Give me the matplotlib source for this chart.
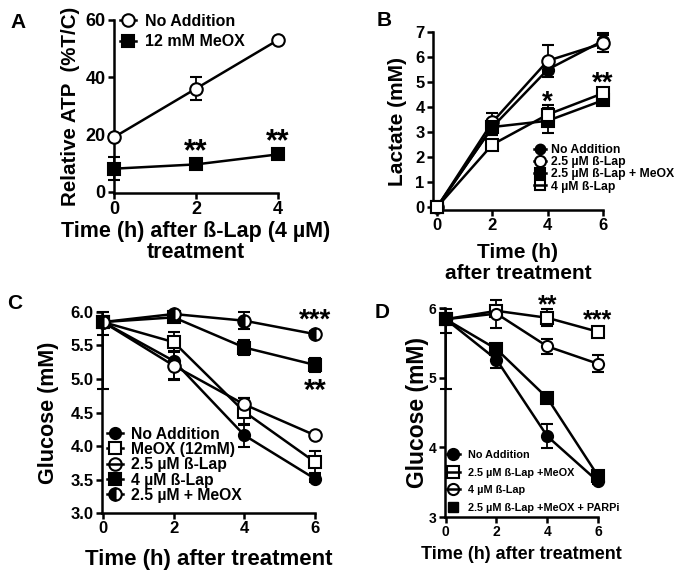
import matplotlib
matplotlib.use("Agg")
import matplotlib.pyplot as plt
from matplotlib.lines import Line2D
import numpy as np

plt.rcParams['font.family'] = ['Liberation Sans', 'DejaVu Sans']
plt.rcParams['font.weight'] = 'bold'

# ---- panel A: relative ATP ----
a_time = [0, 2, 4]
a_none = [19, 36, 53]
a_none_err = [0, 4, 0]
a_meox = [8, 9.5, 13]
a_meox_err = [4, 0, 0]

# ---- panel B: lactate ----
b_time = [0, 2, 4, 6]
b_none = [0, 3.2, 5.5, 6.65]
b_none_err = [0, 0.3, 0.15, 0.3]
b_lap25 = [0, 3.4, 5.85, 6.55]
b_lap25_err = [0, 0.35, 0.65, 0.35]
b_lap25_meox = [0, 3.2, 3.45, 4.27]
b_lap25_meox_err = [0, 0.3, 0.5, 0.1]
b_lap4 = [0, 2.5, 3.7, 4.55]
b_lap4_err = [0, 0.2, 0.4, 0.1]

# ---- panel C: glucose ----
c_time = [0, 2, 4, 6]
c_none = [5.85, 5.27, 4.16, 3.51]
c_none_lo = [0.2, 0.27, 0.17, 0.05]
c_none_hi = [0.15, 0.27, 0.17, 0.05]
c_meox = [5.85, 5.55, 4.51, 3.76]
c_meox_err = [0, 0.15, 0.2, 0.17]
c_lap25 = [5.85, 5.2, 4.62, 4.16]
c_lap25_lo = [1.0, 0.22, 0.1, 0.04]
c_lap25_hi = [0, 0.22, 0.1, 0.04]
c_lap4 = [5.85, 5.92, 5.47, 5.21]
c_lap4_err = [0, 0.06, 0.11, 0.11]
c_lap25_meox = [5.85, 5.97, 5.87, 5.67]
c_lap25_meox_err = [0, 0.04, 0.13, 0.04]

# ---- panel D: glucose ----
d_time = [0, 2, 4, 6]
d_none = [5.84, 5.26, 4.16, 3.51]
d_none_lo = [0.2, 0.12, 0.17, 0.04]
d_none_hi = [0.15, 0.12, 0.17, 0.04]
d_lap25_meox = [5.84, 5.96, 5.86, 5.66]
d_lap25_meox_err = [0, 0.04, 0.12, 0.03]
d_lap4 = [5.84, 5.92, 5.45, 5.2]
d_lap4_lo = [1.0, 0.2, 0.11, 0.12]
d_lap4_hi = [0, 0.2, 0.11, 0.12]
d_parpi = [5.84, 5.41, 4.71, 3.59]
d_parpi_err = [0, 0.05, 0.04, 0.04]

fig = plt.figure(figsize=(6.85, 5.73), dpi=100)


def style(ax, tick_size):
    for s in ['top', 'right']:
        ax.spines[s].set_visible(False)
    for s in ['left', 'bottom']:
        ax.spines[s].set_linewidth(1.8)
    ax.tick_params(width=1.8, length=4, labelsize=tick_size, pad=2)
    for lab in ax.get_xticklabels() + ax.get_yticklabels():
        lab.set_fontweight('bold')


def series(ax, x, y, err, marker, fill, ms, lw=1.8):
    # fill: 'full' black, 'open' white, 'left' half black
    mfc = 'white' if fill == 'open' else 'black'
    fs = 'left' if fill == 'left' else 'full'
    ax.errorbar(x, y, yerr=err, color='black', lw=lw, marker=marker, ms=ms,
                mfc=mfc, mec='black', mew=1.5, fillstyle=fs,
                markerfacecoloralt='white', capsize=4, elinewidth=1.3,
                capthick=1.3, clip_on=False, zorder=3)


def handle(marker, mfc, ms, fs='full'):
    return Line2D([], [], color='black', lw=1.8, marker=marker, ms=ms,
                  mfc=mfc, mec='black', mew=1.5, fillstyle=fs,
                  markerfacecoloralt='white')


def stars(ax, x, y, s, size):
    ax.text(x, y, s, ha='center', va='top', fontsize=size, fontweight='bold')


# ---------------- A ----------------
ax = fig.add_axes([0.1664, 0.6632, 0.2394, 0.3019])
series(ax, a_time, a_none, a_none_err, 'o', 'open', 9)
series(ax, a_time, a_meox, a_meox_err, 's', 'full', 8)
ax.set_xlim(0, 4)
ax.set_ylim(-0.5, 60)
ax.set_xticks([0, 2, 4])
ax.set_yticks([0, 20, 40, 60])
style(ax, 13)
ax.set_ylabel('Relative ATP  (%T/C)', fontsize=14.8, fontweight='bold', labelpad=4)
ax.set_xlabel('Time (h) after ß-Lap (4 µM)\ntreatment', fontsize=15.5,
              fontweight='bold', labelpad=2, linespacing=1.0)
stars(ax, 2, 19, '**', 22)
stars(ax, 4, 22.5, '**', 22)
ax.legend([handle('o', 'white', 9), handle('s', 'black', 8)],
          ['No Addition', '12 mM MeOX'], loc='center left',
          bbox_to_anchor=(0.037, 0.934), frameon=False, fontsize=11.5,
          handlelength=1.0, handletextpad=0.56, labelspacing=0.35,
          borderaxespad=0, borderpad=0)
fig.text(0.015, 0.96, 'A', fontsize=15, fontweight='bold', va='center')

# ---------------- B ----------------
ax = fig.add_axes([0.6321, 0.6335, 0.2482, 0.3106])
series(ax, b_time, b_none, b_none_err, 'o', 'full', 8)
series(ax, b_time, b_lap25, b_lap25_err, 'o', 'open', 9)
series(ax, b_time, b_lap25_meox, b_lap25_meox_err, 's', 'full', 8)
series(ax, b_time, b_lap4, b_lap4_err, 's', 'open', 8)
ax.set_xlim(-0.15, 6)
ax.set_ylim(-0.12, 7)
ax.set_xticks([0, 2, 4, 6])
ax.set_yticks(range(8))
style(ax, 12)
ax.set_ylabel('Lactate (mM)', fontsize=15, fontweight='bold', labelpad=6)
ax.set_xlabel('Time (h)\nafter treatment', fontsize=15, fontweight='bold',
              labelpad=7, linespacing=1.1)
stars(ax, 4, 4.7, '*', 20)
stars(ax, 6, 5.45, '**', 20)
ax.legend([handle('o', 'black', 7), handle('o', 'white', 8),
           handle('s', 'black', 7), handle('s', 'none', 7)],
          ['No Addition', '2.5 µM ß-Lap', '2.5 µM ß-Lap + MeOX', '4 µM ß-Lap'],
          loc='center left', bbox_to_anchor=(0.594, 0.235), frameon=False,
          fontsize=8.8, handlelength=1.0, handletextpad=0.4,
          labelspacing=0.02, borderaxespad=0, borderpad=0)
fig.text(0.55, 0.965, 'B', fontsize=15, fontweight='bold', va='center')

# ---------------- C ----------------
ax = fig.add_axes([0.1489, 0.1047, 0.311, 0.3508])
series(ax, c_time, c_none, [c_none_lo, c_none_hi], 'o', 'full', 8)
series(ax, c_time, c_meox, c_meox_err, 's', 'open', 9)
series(ax, c_time, c_lap25, [c_lap25_lo, c_lap25_hi], 'o', 'open', 9)
series(ax, c_time, c_lap4, c_lap4_err, 's', 'full', 8)
series(ax, c_time, c_lap25_meox, c_lap25_meox_err, 'o', 'left', 9)
ax.set_xlim(-0.03, 6)
ax.set_ylim(3.0, 6.0)
ax.set_xticks([0, 2, 4, 6])
ax.set_yticks(np.arange(3.0, 6.01, 0.5))
ax.set_yticklabels(['%.1f' % v for v in np.arange(3.0, 6.01, 0.5)])
style(ax, 12)
ax.set_ylabel('Glucose (mM)', fontsize=15.5, fontweight='bold', labelpad=8)
ax.set_xlabel('Time (h) after treatment', fontsize=16, fontweight='bold',
              labelpad=9)
stars(ax, 6, 6.06, '***', 20)
stars(ax, 6, 5.03, '**', 21)
ax.legend([handle('o', 'black', 8), handle('s', 'white', 9),
           handle('o', 'none', 9), handle('s', 'black', 8),
           handle('o', 'black', 9, 'left')],
          ['No Addition', 'MeOX (12mM)', '2.5 µM ß-Lap', '4 µM ß-Lap',
           '2.5 µM + MeOX'],
          loc='center left', bbox_to_anchor=(0.023, 0.24), frameon=False,
          fontsize=11.3, handlelength=1.0, handletextpad=0.55,
          labelspacing=0.02, borderaxespad=0, borderpad=0)
fig.text(0.01, 0.471, 'C', fontsize=15, fontweight='bold', va='center')

# ---------------- D ----------------
ax = fig.add_axes([0.6496, 0.0977, 0.2234, 0.3647])
series(ax, d_time, d_none, [d_none_lo, d_none_hi], 'o', 'full', 8)
series(ax, d_time, d_lap25_meox, d_lap25_meox_err, 's', 'open', 8)
series(ax, d_time, d_lap4, [d_lap4_lo, d_lap4_hi], 'o', 'open', 8)
series(ax, d_time, d_parpi, d_parpi_err, 's', 'full', 8)
ax.set_xlim(-0.03, 6)
ax.set_ylim(3, 6)
ax.set_xticks([0, 2, 4, 6])
ax.set_yticks([3, 4, 5, 6])
style(ax, 10)
ax.set_ylabel('Glucose (mM)', fontsize=16.5, fontweight='bold', labelpad=0)
ax.set_xlabel('Time (h) after treatment', fontsize=13, fontweight='bold',
              labelpad=5)
stars(ax, 4, 6.21, '**', 18)
stars(ax, 6, 5.99, '***', 18)
ax.legend([handle('o', 'black', 8), handle('s', 'none', 8),
           handle('o', 'none', 8), Line2D([], [], ls='none', marker='s',
                                          ms=7, color='black')],
          ['No Addition', '2.5 µM ß-Lap +MeOX', '4 µM ß-Lap',
           '2.5 µM ß-Lap +MeOX + PARPi'],
          loc='center left', bbox_to_anchor=(0.01, 0.17), frameon=False,
          fontsize=7.8, handlelength=1.2, handletextpad=0.78,
          labelspacing=0.7, borderaxespad=0, borderpad=0)
fig.text(0.547, 0.455, 'D', fontsize=15, fontweight='bold', va='center')

fig.savefig('out.png', dpi=100)
